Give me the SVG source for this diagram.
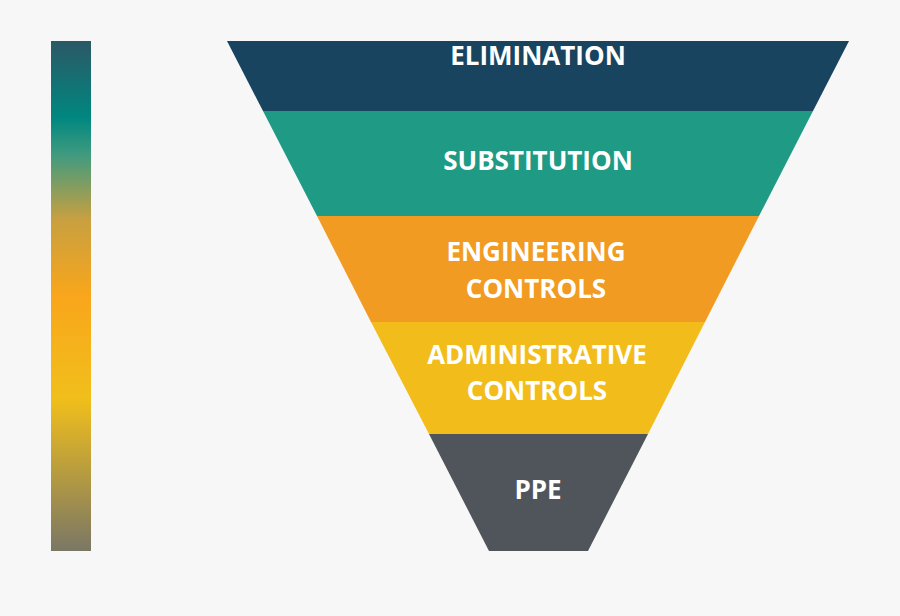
<svg xmlns="http://www.w3.org/2000/svg" width="900" height="616" viewBox="0 0 900 616">
<defs>
<linearGradient id="bar" x1="0" y1="0" x2="0" y2="1">
<stop offset="0" stop-color="#2b5866"/>
<stop offset="0.15" stop-color="#00877f"/>
<stop offset="0.22" stop-color="#3d9a80"/>
<stop offset="0.35" stop-color="#c8a040"/>
<stop offset="0.5" stop-color="#f9a61b"/>
<stop offset="0.7" stop-color="#f1bf1b"/>
<stop offset="1" stop-color="#7a7765"/>
</linearGradient>
<style>
text{font-family:"Open Sans","Liberation Sans",sans-serif;font-weight:bold;font-size:26px;fill:#fff;text-anchor:middle}
</style>
</defs>
<rect width="900" height="616" fill="#f7f7f7"/>
<rect id="scale" x="51" y="41" width="40" height="510" fill="url(#bar)"/>
<g id="elimination"><polygon points="227,41 849,41 813,111 263,111" fill="#184460"/><text x="538" y="65">ELIMINATION</text></g>
<g id="substitution"><polygon points="263,111 813,111 759,216 317,216" fill="#1e9a85"/><text x="538" y="170">SUBSTITUTION</text></g>
<g id="engineering"><polygon points="317,216 759,216 705,322 371,322" fill="#f29b22"/><text x="536" y="261">ENGINEERING</text><text x="536" y="298">CONTROLS</text></g>
<g id="administrative"><polygon points="371,322 705,322 648,434 429,434" fill="#f2bd1b"/><text x="537" y="364">ADMINISTRATIVE</text><text x="537" y="400">CONTROLS</text></g>
<g id="ppe"><polygon points="429,434 648,434 588,551 489,551" fill="#4f555a"/><text x="538" y="499">PPE</text></g>
<g id="connectors"/>
</svg>
